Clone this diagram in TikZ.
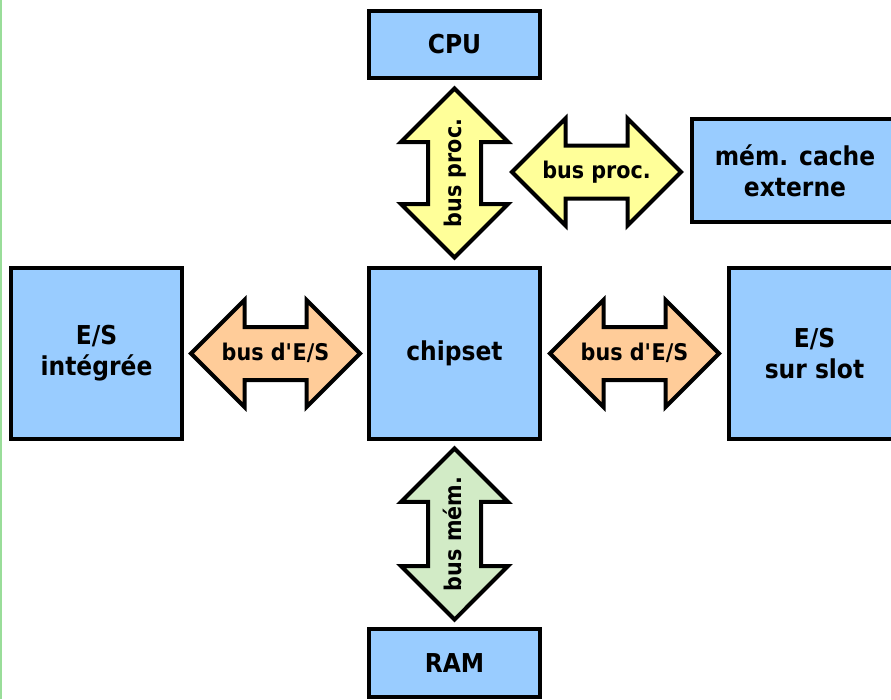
\documentclass[tikz,border=0pt]{standalone}
\usepackage{fontspec}
\setmainfont[FakeStretch=0.9]{DejaVu Sans}
\usepackage{tikz}
\usetikzlibrary{calc}
\usetikzlibrary{shapes.arrows}
\usetikzlibrary{positioning}
\definecolor{boxblue}{HTML}{99CCFF}
\definecolor{busyellow}{HTML}{FFFF99}
\definecolor{busorange}{HTML}{FFCC99}
\definecolor{busgreen}{HTML}{D2EBC6}
\definecolor{edgegreen}{HTML}{99DD99}

\begin{document}
\begin{tikzpicture}[x=1pt,y=1pt]
  % some styles
  \tikzset{
    box/.style={
      rectangle,
      minimum width=171pt,
      minimum height=171pt,
      inner sep=0pt,
      outer sep=0pt,
      line width=4pt,
      fill=boxblue,
      draw=black,
      align=center,
      font=\fontsize{26}{31}\selectfont\bfseries
    }
  }
  \tikzset{
    bus/.style={
      double arrow,
      double arrow tip angle=90,
      double arrow head extend=27pt,
      minimum height=169pt,
      minimum width=0pt,
      text height=15pt,
      text depth=2pt,
      inner xsep=0pt,
      inner ysep=16pt,
      outer sep=0pt,
      line width=4pt,
      draw=black,
      font=\fontsize{23}{26}\selectfont\bfseries
    }
  }
  \tikzset{procbus/.style={bus,fill=busyellow}}
  \tikzset{iobus/.style={bus,fill=busorange}}
  \tikzset{membus/.style={bus,fill=busgreen}}

\useasboundingbox (0,0) rectangle (891,-699);
\draw[edgegreen,line width=1.5pt] (0.75,0) -- (0.75,-699);

% the blocks
\node[box,minimum height=67pt] (cpu) at (454.5,-44.5) {CPU};
\node[box] (chipset) at (454.5,-353.5) {chipset};
\node[box] (esint) at (96.5,-353.5) {E/S\\intégrée};
\node[box] (esslot) at (814.5,-353.5) {E/S\\sur slot};
\node[box,minimum width=207pt,minimum height=103pt] (cache) at (795,-170.5) {mém. cache\\externe};
\node[box,minimum height=68pt] (ram) at (454.5,-663) {RAM};

% the buses
\node[procbus,rotate=90] (cpubus) at ($(cpu.south)!0.5!(chipset.north)$) {bus proc.};
\node[procbus] (cachebus) at (596.5,-172) {bus proc.};
\node[iobus] (intbus) at ($(esint.east)!0.5!(chipset.west)$) {bus d\textquotesingle E/S};
\node[iobus] (slotbus) at ($(chipset.east)!0.5!(esslot.west)$) {bus d\textquotesingle E/S};
\node[membus,rotate=90] (rambus) at ($(chipset.south)!0.5!(ram.north)$) {bus mém.};

\end{tikzpicture}
\end{document}
